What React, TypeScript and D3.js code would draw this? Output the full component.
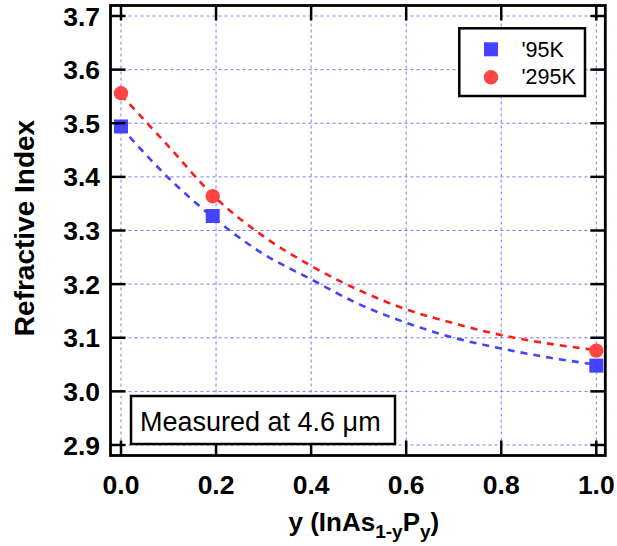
import React from "react";
import * as d3 from "d3";

const xTicks = [0, 0.2, 0.4, 0.6, 0.8, 1.0];
const yTicks = [2.9, 3.0, 3.1, 3.2, 3.3, 3.4, 3.5, 3.6, 3.7];

const compX = [0, 0.193, 1.0];
const n95K = [3.494, 3.327, 3.048];
const n295K = [3.556, 3.364, 3.076];

const fitX = [0, 0.1, 0.2, 0.3, 0.4, 0.5, 0.6, 0.7, 0.8, 0.9, 1.0];
const fit95K = [3.492, 3.398, 3.32, 3.256, 3.209, 3.163, 3.128, 3.1, 3.08, 3.063, 3.05];
const fit295K = [3.553, 3.457, 3.36, 3.289, 3.234, 3.189, 3.153, 3.127, 3.105, 3.089, 3.077];

const legendLabels = ["'95K", "'295K"];
const noteText = "Measured at 4.6 \u03bcm";

const W = 617;
const H = 546;
const L = 110.5, R = 605.3, T = 5.5, B = 455.5;

const BLUE = "#4444ff";
const RED = "#ff4444";
const FONT = "'Liberation Sans', Arial, sans-serif";

export default function App() {
  const x = d3.scaleLinear().domain([0, 1]).range([121, 596.3]);
  const y = d3.scaleLinear().domain([2.9, 3.7]).range([445, 16]);

  const line = d3
    .line<number>()
    .x((_, i) => x(fitX[i]))
    .y((d) => y(d))
    .curve(d3.curveCatmullRom);

  const tickLen = 15;
  const fmt = d3.format(".1f");

  return (
    <svg
      width={W}
      height={H}
      style={{ position: "absolute", left: 0, top: 0, background: "#fff" }}
      fontFamily={FONT}
    >
      <rect x={0} y={0} width={W} height={H} fill="#fff" />
      {/* grid */}
      <g stroke="#7777ff" strokeWidth={1} strokeDasharray="3,3">
        {xTicks.map((t) => (
          <line key={"gx" + t} x1={x(t)} x2={x(t)} y1={T} y2={B} />
        ))}
        {yTicks.map((t) => (
          <line key={"gy" + t} x1={L} x2={R} y1={y(t)} y2={y(t)} />
        ))}
      </g>
      {/* fit curves */}
      <path d={line(fit95K) || ""} fill="none" stroke={BLUE} strokeWidth={2.6} strokeDasharray="7,6" />
      <path d={line(fit295K) || ""} fill="none" stroke="#ff1a1a" strokeWidth={2.6} strokeDasharray="7,6" />
      {/* markers */}
      {compX.map((cx, i) => (
        <rect
          key={"s" + i}
          x={x(cx) - 7}
          y={y(n95K[i]) - 7}
          width={14}
          height={14}
          fill={BLUE}
        />
      ))}
      {compX.map((cx, i) => (
        <circle key={"c" + i} cx={x(cx)} cy={y(n295K[i])} r={7.2} fill={RED} />
      ))}
      {/* ticks */}
      <g stroke="#000" strokeWidth={2.5}>
        {xTicks.map((t) => (
          <g key={"tx" + t}>
            <line x1={x(t)} x2={x(t)} y1={B} y2={B - tickLen} />
            <line x1={x(t)} x2={x(t)} y1={T} y2={T + tickLen} />
          </g>
        ))}
        {yTicks.map((t) => (
          <g key={"ty" + t}>
            <line x1={L} x2={L + tickLen} y1={y(t)} y2={y(t)} />
            <line x1={R} x2={R - tickLen} y1={y(t)} y2={y(t)} />
          </g>
        ))}
      </g>
      {/* annotation box */}
      <rect x={131} y={396} width={264} height={48} fill="#fff" stroke="#000" strokeWidth={2.5} />
      <text x={140} y={431} fontSize={27} fill="#000">
        {noteText}
      </text>
      {/* legend */}
      <rect x={459.3} y={28.3} width={125.7} height={67.7} fill="#fff" stroke="#000" strokeWidth={2.5} />
      <rect x={491 - 7} y={49.3 - 7} width={14} height={14} fill={BLUE} />
      <circle cx={491} cy={77.3} r={7.2} fill={RED} />
      <text x={521.5} y={56.5} fontSize={21.5} fill="#000">
        {legendLabels[0]}
      </text>
      <text x={521.5} y={84} fontSize={21.5} fill="#000">
        {legendLabels[1]}
      </text>
      {/* frame */}
      <rect x={L} y={T} width={R - L} height={B - T} fill="none" stroke="#000" strokeWidth={2.8} />
      {/* tick labels */}
      <g fontSize={26.5} fontWeight="bold" fill="#000">
        {xTicks.map((t) => (
          <text key={"lx" + t} x={x(t)} y={494} textAnchor="middle">
            {fmt(t)}
          </text>
        ))}
        {yTicks.map((t) => (
          <text key={"ly" + t} x={100} y={y(t) + 9.5} textAnchor="end">
            {fmt(t)}
          </text>
        ))}
      </g>
      {/* axis titles */}
      <text
        transform={`translate(34,228) rotate(-90)`}
        textAnchor="middle"
        fontSize={28}
        fontWeight="bold"
        fill="#000"
      >
        Refractive Index
      </text>
      <text x={(L + R) / 2 + 6} y={531} textAnchor="middle" fontSize={26} fontWeight="bold" fill="#000">
        y (InAs
        <tspan fontSize={19} dy={7}>1-y</tspan>
        <tspan dy={-7}>P</tspan>
        <tspan fontSize={19} dy={7}>y</tspan>
        <tspan dy={-7}>)</tspan>
      </text>
    </svg>
  );
}
